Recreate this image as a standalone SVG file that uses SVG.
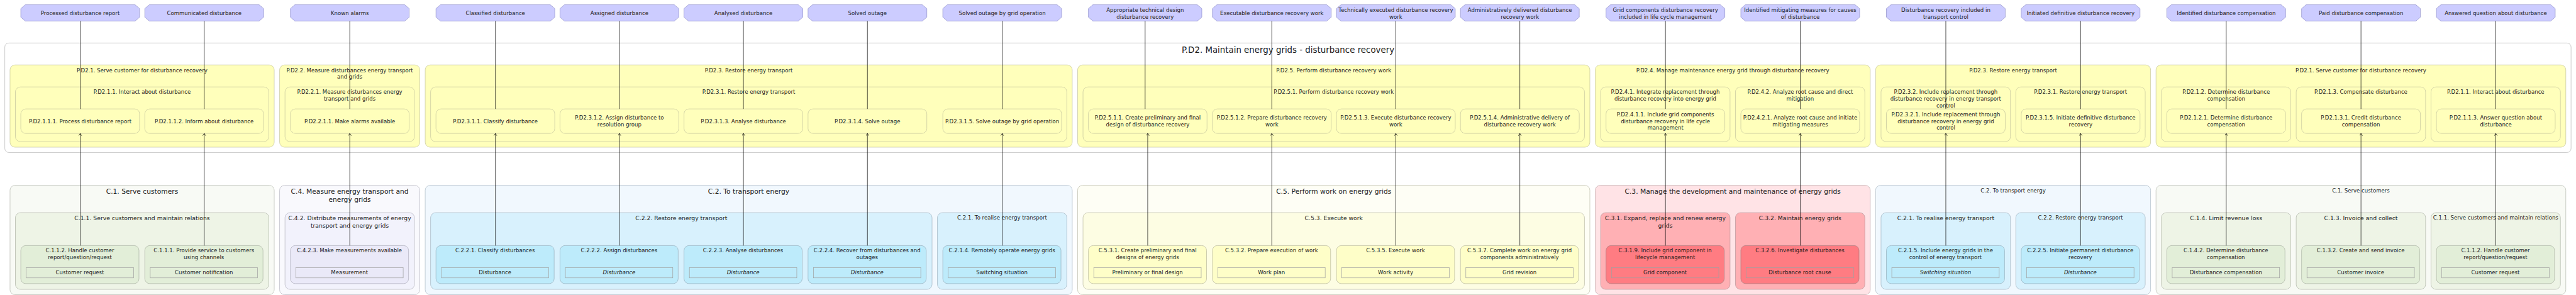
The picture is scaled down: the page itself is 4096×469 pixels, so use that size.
<svg xmlns="http://www.w3.org/2000/svg" width="4096" height="469" viewBox="0 0 4096 469">
<defs>
<marker id="arr" markerWidth="9" markerHeight="9" refX="5" refY="3.2" orient="auto" markerUnits="userSpaceOnUse"><path d="M0,0 L5,3.2 L0,6.4" fill="none" stroke="#000" stroke-width="1"/></marker>
<polygon id="oct" points="10,0 254.4,0 264.4,8.5 264.4,27.7 254.4,36.2 10,36.2 0,27.7 0,8.5"/>
</defs>
<style>
text{font-family:'DejaVu Sans',Verdana,sans-serif;text-anchor:middle;fill:#1a1a1a}
.f12{font-size:12px}.f13{font-size:13px}.f15{font-size:15px}.f19{font-size:18.7px}
.it{font-style:italic}
.out{fill:#ccccff;stroke:#8f8fc9;stroke-width:1}
.outer{fill:#ffffff;stroke:#b4b4b4;stroke-width:1}
.py{fill:#ffffbb;stroke:#c4c49e;stroke-width:1}
.g1{fill:#f8faf5;stroke:#b4b8ae;stroke-width:1}.g2{fill:#eef4e6;stroke:#adb3a6;stroke-width:1}.g3{fill:#e2eed8;stroke:#a9b1a2;stroke-width:1}
.v1{fill:#f9f9fd;stroke:#b6b6c0;stroke-width:1}.v2{fill:#f2f2fc;stroke:#b0b0bc;stroke-width:1}.v3{fill:#eae9f8;stroke:#aaaab8;stroke-width:1}
.b1{fill:#f1f8fe;stroke:#aab8c4;stroke-width:1}.b2{fill:#d8f1fd;stroke:#9fb2c0;stroke-width:1}.b3{fill:#bdebfb;stroke:#96aebd;stroke-width:1}
.y1{fill:#fefef5;stroke:#bdbdac;stroke-width:1}.y2{fill:#fdfde3;stroke:#b9b9a2;stroke-width:1}.y3{fill:#fefec8;stroke:#b7b79c;stroke-width:1}
.r1{fill:#ffe3e6;stroke:#c0a8aa;stroke-width:1}.r2{fill:#ffb0b4;stroke:#b8959a;stroke-width:1}.r3{fill:#ff7c82;stroke:#a97a7e;stroke-width:1}
.d{fill:none;stroke:#a0a0a0;stroke-width:1}
.con{stroke:#000;stroke-width:1;fill:none}
</style>
<g transform="scale(0.71446)">
<!-- Output nodes -->
<g id="out1"><use href="#oct" x="46.3" y="10.6" class="out"/><text class="f12" x="178.5" y="33.3">Processed disturbance report</text></g>
<g id="out2"><use href="#oct" x="322.3" y="10.6" class="out"/><text class="f12" x="454.5" y="33.3">Communicated disturbance</text></g>
<g id="out3"><use href="#oct" x="646.3" y="10.6" class="out"/><text class="f12" x="778.5" y="33.3">Known alarms</text></g>
<g id="out4"><use href="#oct" x="970.3" y="10.6" class="out"/><text class="f12" x="1102.5" y="33.3">Classified disturbance</text></g>
<g id="out5"><use href="#oct" x="1246.3" y="10.6" class="out"/><text class="f12" x="1378.5" y="33.3">Assigned disturbance</text></g>
<g id="out6"><use href="#oct" x="1522.3" y="10.6" class="out"/><text class="f12" x="1654.5" y="33.3">Analysed disturbance</text></g>
<g id="out7"><use href="#oct" x="1798.3" y="10.6" class="out"/><text class="f12" x="1930.5" y="33.3">Solved outage</text></g>
<g id="out8"><use href="#oct" x="2098.3" y="10.6" class="out"/><text class="f12" x="2230.5" y="33.3">Solved outage by grid operation</text></g>
<g id="out9"><polygon class="out" points="2432.3,10.6 2664.7,10.6 2674.7,19.1 2674.7,38.3 2664.7,46.8 2432.3,46.8 2422.3,38.3 2422.3,19.1"/><text class="f12" x="2548.5" y="26">Appropriate technical design</text><text class="f12" x="2548.5" y="41.3">disturbance recovery</text></g>
<g id="out10"><use href="#oct" x="2698.3" y="10.6" class="out"/><text class="f12" x="2830.5" y="33.3">Executable disturbance recovery work</text></g>
<g id="out11"><use href="#oct" x="2974.3" y="10.6" class="out"/><text class="f12" x="3106.5" y="26">Technically executed disturbance recovery</text><text class="f12" x="3106.5" y="41.3">work</text></g>
<g id="out12"><use href="#oct" x="3250.3" y="10.6" class="out"/><text class="f12" x="3382.5" y="26">Administratively delivered disturbance</text><text class="f12" x="3382.5" y="41.3">recovery work</text></g>
<g id="out13"><use href="#oct" x="3574.3" y="10.6" class="out"/><text class="f12" x="3706.5" y="26">Grid components disturbance recovery</text><text class="f12" x="3706.5" y="41.3">included in life cycle management</text></g>
<g id="out14"><use href="#oct" x="3874.3" y="10.6" class="out"/><text class="f12" x="4006.5" y="26">Identified mitigating measures for causes</text><text class="f12" x="4006.5" y="41.3">of disturbance</text></g>
<g id="out15"><use href="#oct" x="4198.3" y="10.6" class="out"/><text class="f12" x="4330.5" y="26">Disturbance recovery included in</text><text class="f12" x="4330.5" y="41.3">transport control</text></g>
<g id="out16"><use href="#oct" x="4498.3" y="10.6" class="out"/><text class="f12" x="4630.5" y="33.3">Initiated definitive disturbance recovery</text></g>
<g id="out17"><use href="#oct" x="4822.3" y="10.6" class="out"/><text class="f12" x="4954.5" y="33.3">Identified disturbance compensation</text></g>
<g id="out18"><use href="#oct" x="5122.3" y="10.6" class="out"/><text class="f12" x="5254.5" y="33.3">Paid disturbance compensation</text></g>
<g id="out19"><use href="#oct" x="5422.3" y="10.6" class="out"/><text class="f12" x="5554.5" y="33.3">Answered question about disturbance</text></g>

<!-- Process P.D2 -->
<g id="PD2"><rect class="outer" x="10.7" y="95.7" width="5711.3" height="243.6" rx="9"/><text class="f19" x="2866.5" y="118.1">P.D2. Maintain energy grids - disturbance recovery</text></g>

<g id="PD21a"><rect class="py" x="22.3" y="144.5" width="588" height="183" rx="11"/><text class="f12" x="316.3" y="160.3">P.D2.1. Serve customer for disturbance recovery</text></g>
<g id="PD22"><rect class="py" x="622.3" y="144.5" width="312" height="183" rx="11"/><text class="f12" x="778.3" y="160.3">P.D2.2. Measure disturbances energy transport</text><text class="f12" x="778.3" y="175.6">and grids</text></g>
<g id="PD23a"><rect class="py" x="946.3" y="144.5" width="1440" height="183" rx="11"/><text class="f12" x="1666.3" y="160.3">P.D2.3. Restore energy transport</text></g>
<g id="PD25"><rect class="py" x="2398.3" y="144.5" width="1140" height="183" rx="11"/><text class="f12" x="2968.3" y="160.3">P.D2.5. Perform disturbance recovery work</text></g>
<g id="PD24"><rect class="py" x="3550.3" y="144.5" width="612" height="183" rx="11"/><text class="f12" x="3856.3" y="160.3">P.D2.4. Manage maintenance energy grid through disturbance recovery</text></g>
<g id="PD23b"><rect class="py" x="4174.3" y="144.5" width="612" height="183" rx="11"/><text class="f12" x="4480.3" y="160.3">P.D2.3. Restore energy transport</text></g>
<g id="PD21b"><rect class="py" x="4798.3" y="144.5" width="912" height="183" rx="11"/><text class="f12" x="5254.3" y="160.3">P.D2.1. Serve customer for disturbance recovery</text></g>

<g id="PD211a"><rect class="py" x="34.3" y="193.5" width="564" height="121.6" rx="11"/><text class="f12" x="316.3" y="208.8">P.D2.1.1. Interact about disturbance</text></g>
<g id="PD221"><rect class="py" x="634.3" y="193.5" width="288" height="121.6" rx="11"/><text class="f12" x="778.3" y="208.8">P.D2.2.1. Measure disturbances energy</text><text class="f12" x="778.3" y="224.1">transport and grids</text></g>
<g id="PD231a"><rect class="py" x="958.3" y="193.5" width="1416" height="121.6" rx="11"/><text class="f12" x="1666.3" y="208.8">P.D2.3.1. Restore energy transport</text></g>
<g id="PD251"><rect class="py" x="2410.3" y="193.5" width="1116" height="121.6" rx="11"/><text class="f12" x="2968.3" y="208.8">P.D2.5.1. Perform disturbance recovery work</text></g>
<g id="PD241"><rect class="py" x="3562.3" y="193.5" width="288" height="121.6" rx="11"/><text class="f12" x="3706.3" y="208.8">P.D2.4.1. Integrate replacement through</text><text class="f12" x="3706.3" y="224.1">disturbance recovery into energy grid</text></g>
<g id="PD242"><rect class="py" x="3862.3" y="193.5" width="288" height="121.6" rx="11"/><text class="f12" x="4006.3" y="208.8">P.D2.4.2. Analyze root cause and direct</text><text class="f12" x="4006.3" y="224.1">mitigation</text></g>
<g id="PD232"><rect class="py" x="4186.3" y="193.5" width="288" height="121.6" rx="11"/><text class="f12" x="4330.3" y="208.8">P.D2.3.2. Include replacement through</text><text class="f12" x="4330.3" y="224.1">disturbance recovery in energy transport</text><text class="f12" x="4330.3" y="239">control</text></g>
<g id="PD231b"><rect class="py" x="4486.3" y="193.5" width="288" height="121.6" rx="11"/><text class="f12" x="4630.3" y="208.8">P.D2.3.1. Restore energy transport</text></g>
<g id="PD212"><rect class="py" x="4810.3" y="193.5" width="288" height="121.6" rx="11"/><text class="f12" x="4954.3" y="208.8">P.D2.1.2. Determine disturbance</text><text class="f12" x="4954.3" y="224.1">compensation</text></g>
<g id="PD213"><rect class="py" x="5110.3" y="193.5" width="288" height="121.6" rx="11"/><text class="f12" x="5254.3" y="208.8">P.D2.1.3. Compensate disturbance</text></g>
<g id="PD211b"><rect class="py" x="5410.3" y="193.5" width="288" height="121.6" rx="11"/><text class="f12" x="5554.3" y="208.8">P.D2.1.1. Interact about disturbance</text></g>

<g id="PD2111"><rect class="py" x="46.3" y="242.4" width="264.4" height="54.5" rx="11"/><text class="f12" x="178.5" y="273.9">P.D2.1.1.1. Process disturbance report</text></g>
<g id="PD2112"><rect class="py" x="322.3" y="242.4" width="264.4" height="54.5" rx="11"/><text class="f12" x="454.5" y="273.9">P.D2.1.1.2. Inform about disturbance</text></g>
<g id="PD2211"><rect class="py" x="646.3" y="242.4" width="264.4" height="54.5" rx="11"/><text class="f12" x="778.5" y="273.9">P.D2.2.1.1. Make alarms available</text></g>
<g id="PD2311"><rect class="py" x="970.3" y="242.4" width="264.4" height="54.5" rx="11"/><text class="f12" x="1102.5" y="273.9">P.D2.3.1.1. Classify disturbance</text></g>
<g id="PD2312"><rect class="py" x="1246.3" y="242.4" width="264.4" height="54.5" rx="11"/><text class="f12" x="1378.5" y="265.4">P.D2.3.1.2. Assign disturbance to</text><text class="f12" x="1378.5" y="280.7">resolution group</text></g>
<g id="PD2313"><rect class="py" x="1522.3" y="242.4" width="264.4" height="54.5" rx="11"/><text class="f12" x="1654.5" y="273.9">P.D2.3.1.3. Analyse disturbance</text></g>
<g id="PD2314"><rect class="py" x="1798.3" y="242.4" width="264.4" height="54.5" rx="11"/><text class="f12" x="1930.5" y="273.9">P.D2.3.1.4. Solve outage</text></g>
<g id="PD2315a"><rect class="py" x="2098.3" y="242.4" width="264.4" height="54.5" rx="11"/><text class="f12" x="2230.5" y="273.9">P.D2.3.1.5. Solve outage by grid operation</text></g>
<g id="PD2511"><rect class="py" x="2422.3" y="242.4" width="264" height="54.5" rx="11"/><text class="f12" x="2554.3" y="265.4">P.D2.5.1.1. Create preliminary and final</text><text class="f12" x="2554.3" y="280.7">design of disturbance recovery</text></g>
<g id="PD2512"><rect class="py" x="2698.3" y="242.4" width="264.4" height="54.5" rx="11"/><text class="f12" x="2830.5" y="265.4">P.D2.5.1.2. Prepare disturbance recovery</text><text class="f12" x="2830.5" y="280.7">work</text></g>
<g id="PD2513"><rect class="py" x="2974.3" y="242.4" width="264.4" height="54.5" rx="11"/><text class="f12" x="3106.5" y="265.4">P.D2.5.1.3. Execute disturbance recovery</text><text class="f12" x="3106.5" y="280.7">work</text></g>
<g id="PD2514"><rect class="py" x="3250.3" y="242.4" width="264.4" height="54.5" rx="11"/><text class="f12" x="3382.5" y="265.4">P.D2.5.1.4. Administrative delivery of</text><text class="f12" x="3382.5" y="280.7">disturbance recovery work</text></g>
<g id="PD2411"><rect class="py" x="3574.3" y="242.4" width="264.4" height="54.5" rx="11"/><text class="f12" x="3706.5" y="258.5">P.D2.4.1.1. Include grid components</text><text class="f12" x="3706.5" y="273.9">disturbance recovery in life cycle</text><text class="f12" x="3706.5" y="288.8">management</text></g>
<g id="PD2421"><rect class="py" x="3874.3" y="242.4" width="264.4" height="54.5" rx="11"/><text class="f12" x="4006.5" y="265.4">P.D2.4.2.1. Analyze root cause and initiate</text><text class="f12" x="4006.5" y="280.7">mitigating measures</text></g>
<g id="PD2321"><rect class="py" x="4198.3" y="242.4" width="264.4" height="54.5" rx="11"/><text class="f12" x="4330.5" y="258.5">P.D2.3.2.1. Include replacement through</text><text class="f12" x="4330.5" y="273.9">disturbance recovery in energy grid</text><text class="f12" x="4330.5" y="288.8">control</text></g>
<g id="PD2315b"><rect class="py" x="4498.3" y="242.4" width="264.4" height="54.5" rx="11"/><text class="f12" x="4630.5" y="265.4">P.D2.3.1.5. Initiate definitive disturbance</text><text class="f12" x="4630.5" y="280.7">recovery</text></g>
<g id="PD2121"><rect class="py" x="4822.3" y="242.4" width="264.4" height="54.5" rx="11"/><text class="f12" x="4954.5" y="265.4">P.D2.1.2.1. Determine disturbance</text><text class="f12" x="4954.5" y="280.7">compensation</text></g>
<g id="PD2131"><rect class="py" x="5122.3" y="242.4" width="264.4" height="54.5" rx="11"/><text class="f12" x="5254.5" y="265.4">P.D2.1.3.1. Credit disturbance</text><text class="f12" x="5254.5" y="280.7">compensation</text></g>
<g id="PD2113"><rect class="py" x="5422.3" y="242.4" width="264.4" height="54.5" rx="11"/><text class="f12" x="5554.5" y="265.4">P.D2.1.1.3. Answer question about</text><text class="f12" x="5554.5" y="280.7">disturbance</text></g>

<!-- Capabilities -->
<g id="C1a"><rect class="g1" x="22.3" y="412.4" width="588" height="243.3" rx="11"/><text class="f15" x="316.3" y="430.6">C.1. Serve customers</text></g>
<g id="C4"><rect class="v1" x="622.3" y="412.4" width="312" height="243.3" rx="11"/><text class="f15" x="778.3" y="430.6">C.4. Measure energy transport and</text><text class="f15" x="778.3" y="449">energy grids</text></g>
<g id="C2a"><rect class="b1" x="946.3" y="412.4" width="1440" height="243.3" rx="11"/><text class="f15" x="1666.3" y="430.6">C.2. To transport energy</text></g>
<g id="C5"><rect class="y1" x="2398.3" y="412.4" width="1140" height="243.3" rx="11"/><text class="f15" x="2968.3" y="430.6">C.5. Perform work on energy grids</text></g>
<g id="C3"><rect class="r1" x="3550.3" y="412.4" width="612" height="243.3" rx="11"/><text class="f15" x="3856.3" y="430.6">C.3. Manage the development and maintenance of energy grids</text></g>
<g id="C2b"><rect class="b1" x="4174.3" y="412.4" width="612" height="243.3" rx="11"/><text class="f12" x="4480.3" y="428.2">C.2. To transport energy</text></g>
<g id="C1b"><rect class="g1" x="4798.3" y="412.4" width="912" height="243.3" rx="11"/><text class="f12" x="5254.3" y="428.2">C.1. Serve customers</text></g>

<g id="C11a"><rect class="g2" x="34.3" y="473.3" width="564" height="170.5" rx="11"/><text class="f13" x="316.3" y="489.9">C.1.1. Serve customers and maintain relations</text></g>
<g id="C42"><rect class="v2" x="634.3" y="473.3" width="288" height="170.5" rx="11"/><text class="f13" x="778.3" y="489.9">C.4.2. Distribute measurements of energy</text><text class="f13" x="778.3" y="507.3">transport and energy grids</text></g>
<g id="C22a"><rect class="b2" x="958.3" y="473.3" width="1116" height="170.5" rx="11"/><text class="f13" x="1516.3" y="489.9">C.2.2. Restore energy transport</text></g>
<g id="C21a"><rect class="b2" x="2086.3" y="473.3" width="288" height="170.5" rx="11"/><text class="f12" x="2230.3" y="488.7">C.2.1. To realise energy transport</text></g>
<g id="C53"><rect class="y2" x="2410.3" y="473.3" width="1116" height="170.5" rx="11"/><text class="f13" x="2968.3" y="489.9">C.5.3. Execute work</text></g>
<g id="C31"><rect class="r2" x="3562.3" y="473.3" width="288" height="170.5" rx="11"/><text class="f13" x="3706.3" y="489.9">C.3.1. Expand, replace and renew energy</text><text class="f13" x="3706.3" y="507.3">grids</text></g>
<g id="C32"><rect class="r2" x="3862.3" y="473.3" width="288" height="170.5" rx="11"/><text class="f13" x="4006.3" y="489.9">C.3.2. Maintain energy grids</text></g>
<g id="C21b"><rect class="b2" x="4186.3" y="473.3" width="288" height="170.5" rx="11"/><text class="f13" x="4330.3" y="489.9">C.2.1. To realise energy transport</text></g>
<g id="C22b"><rect class="b2" x="4486.3" y="473.3" width="288" height="170.5" rx="11"/><text class="f12" x="4630.3" y="488.7">C.2.2. Restore energy transport</text></g>
<g id="C14"><rect class="g2" x="4810.3" y="473.3" width="288" height="170.5" rx="11"/><text class="f13" x="4954.3" y="489.9">C.1.4. Limit revenue loss</text></g>
<g id="C13"><rect class="g2" x="5110.3" y="473.3" width="288" height="170.5" rx="11"/><text class="f13" x="5254.3" y="489.9">C.1.3. Invoice and collect</text></g>
<g id="C11b"><rect class="g2" x="5410.3" y="473.3" width="288" height="170.5" rx="11"/><text class="f12" x="5554.3" y="488.7">C.1.1. Serve customers and maintain relations</text></g>

<g id="C112a"><rect class="g3" x="46.3" y="546.4" width="263" height="84.7" rx="11"/><text class="f12" x="177.8" y="561.8">C.1.1.2. Handle customer</text><text class="f12" x="177.8" y="577.1">report/question/request</text><rect class="d" x="58.3" y="595.4" width="239" height="22.9"/><text class="f12" x="177.8" y="610.6">Customer request</text></g>
<g id="C111"><rect class="g3" x="322.3" y="546.4" width="263" height="84.7" rx="11"/><text class="f12" x="453.8" y="561.8">C.1.1.1. Provide service to customers</text><text class="f12" x="453.8" y="577.1">using channels</text><rect class="d" x="334.3" y="595.4" width="239" height="22.9"/><text class="f12" x="453.8" y="610.6">Customer notification</text></g>
<g id="C423"><rect class="v3" x="646.3" y="546.4" width="263" height="84.7" rx="11"/><text class="f12" x="777.8" y="561.8">C.4.2.3. Make measurements available</text><rect class="d" x="658.3" y="595.4" width="239" height="22.9"/><text class="f12" x="777.8" y="610.6">Measurement</text></g>
<g id="C221"><rect class="b3" x="970.3" y="546.4" width="263" height="84.7" rx="11"/><text class="f12" x="1101.8" y="561.8">C.2.2.1. Classify disturbances</text><rect class="d" x="982.3" y="595.4" width="239" height="22.9"/><text class="f12" x="1101.8" y="610.6">Disturbance</text></g>
<g id="C222"><rect class="b3" x="1246.3" y="546.4" width="263" height="84.7" rx="11"/><text class="f12" x="1377.8" y="561.8">C.2.2.2. Assign disturbances</text><rect class="d" x="1258.3" y="595.4" width="239" height="22.9"/><text class="f12 it" x="1377.8" y="610.6">Disturbance</text></g>
<g id="C223"><rect class="b3" x="1522.3" y="546.4" width="263" height="84.7" rx="11"/><text class="f12" x="1653.8" y="561.8">C.2.2.3. Analyse disturbances</text><rect class="d" x="1534.3" y="595.4" width="239" height="22.9"/><text class="f12 it" x="1653.8" y="610.6">Disturbance</text></g>
<g id="C224"><rect class="b3" x="1798.3" y="546.4" width="263" height="84.7" rx="11"/><text class="f12" x="1929.8" y="561.8">C.2.2.4. Recover from disturbances and</text><text class="f12" x="1929.8" y="577.1">outages</text><rect class="d" x="1810.3" y="595.4" width="239" height="22.9"/><text class="f12 it" x="1929.8" y="610.6">Disturbance</text></g>
<g id="C214"><rect class="b3" x="2098.3" y="546.4" width="263" height="84.7" rx="11"/><text class="f12" x="2229.8" y="561.8">C.2.1.4. Remotely operate energy grids</text><rect class="d" x="2110.3" y="595.4" width="239" height="22.9"/><text class="f12" x="2229.8" y="610.6">Switching situation</text></g>
<g id="C531"><rect class="y3" x="2422.3" y="546.4" width="263" height="84.7" rx="11"/><text class="f12" x="2553.8" y="561.8">C.5.3.1. Create preliminary and final</text><text class="f12" x="2553.8" y="577.1">designs of energy grids</text><rect class="d" x="2434.3" y="595.4" width="239" height="22.9"/><text class="f12" x="2553.8" y="610.6">Preliminary or final design</text></g>
<g id="C532"><rect class="y3" x="2698.3" y="546.4" width="263" height="84.7" rx="11"/><text class="f12" x="2829.8" y="561.8">C.5.3.2. Prepare execution of work</text><rect class="d" x="2710.3" y="595.4" width="239" height="22.9"/><text class="f12" x="2829.8" y="610.6">Work plan</text></g>
<g id="C535"><rect class="y3" x="2974.3" y="546.4" width="263" height="84.7" rx="11"/><text class="f12" x="3105.8" y="561.8">C.5.3.5. Execute work</text><rect class="d" x="2986.3" y="595.4" width="239" height="22.9"/><text class="f12" x="3105.8" y="610.6">Work activity</text></g>
<g id="C537"><rect class="y3" x="3250.3" y="546.4" width="263" height="84.7" rx="11"/><text class="f12" x="3381.8" y="561.8">C.5.3.7. Complete work on energy grid</text><text class="f12" x="3381.8" y="577.1">components administratively</text><rect class="d" x="3262.3" y="595.4" width="239" height="22.9"/><text class="f12" x="3381.8" y="610.6">Grid revision</text></g>
<g id="C319"><rect class="r3" x="3574.3" y="546.4" width="263" height="84.7" rx="11"/><text class="f12" x="3705.8" y="561.8">C.3.1.9. Include grid component in</text><text class="f12" x="3705.8" y="577.1">lifecycle management</text><rect class="d" x="3586.3" y="595.4" width="239" height="22.9"/><text class="f12" x="3705.8" y="610.6">Grid component</text></g>
<g id="C326"><rect class="r3" x="3874.3" y="546.4" width="263" height="84.7" rx="11"/><text class="f12" x="4005.8" y="561.8">C.3.2.6. Investigate disturbances</text><rect class="d" x="3886.3" y="595.4" width="239" height="22.9"/><text class="f12" x="4005.8" y="610.6">Disturbance root cause</text></g>
<g id="C215"><rect class="b3" x="4198.3" y="546.4" width="263" height="84.7" rx="11"/><text class="f12" x="4329.8" y="561.8">C.2.1.5. Include energy grids in the</text><text class="f12" x="4329.8" y="577.1">control of energy transport</text><rect class="d" x="4210.3" y="595.4" width="239" height="22.9"/><text class="f12 it" x="4329.8" y="610.6">Switching situation</text></g>
<g id="C225"><rect class="b3" x="4498.3" y="546.4" width="263" height="84.7" rx="11"/><text class="f12" x="4629.8" y="561.8">C.2.2.5. Initiate permanent disturbance</text><text class="f12" x="4629.8" y="577.1">recovery</text><rect class="d" x="4510.3" y="595.4" width="239" height="22.9"/><text class="f12 it" x="4629.8" y="610.6">Disturbance</text></g>
<g id="C142"><rect class="g3" x="4822.3" y="546.4" width="263" height="84.7" rx="11"/><text class="f12" x="4953.8" y="561.8">C.1.4.2. Determine disturbance</text><text class="f12" x="4953.8" y="577.1">compensation</text><rect class="d" x="4834.3" y="595.4" width="239" height="22.9"/><text class="f12" x="4953.8" y="610.6">Disturbance compensation</text></g>
<g id="C132"><rect class="g3" x="5122.3" y="546.4" width="263" height="84.7" rx="11"/><text class="f12" x="5253.8" y="561.8">C.1.3.2. Create and send invoice</text><rect class="d" x="5134.3" y="595.4" width="239" height="22.9"/><text class="f12" x="5253.8" y="610.6">Customer invoice</text></g>
<g id="C112b"><rect class="g3" x="5422.3" y="546.4" width="263" height="84.7" rx="11"/><text class="f12" x="5553.8" y="561.8">C.1.1.2. Handle customer</text><text class="f12" x="5553.8" y="577.1">report/question/request</text><rect class="d" x="5434.3" y="595.4" width="239" height="22.9"/><text class="f12" x="5553.8" y="610.6">Customer request</text></g>

<!-- Connectors -->
<g id="connectors" class="con">
<path d="M178.5,46.8V242.4M454.5,46.8V242.4M778.5,46.8V242.4M1102.5,46.8V242.4M1378.5,46.8V242.4M1654.5,46.8V242.4M1930.5,46.8V242.4M2230.5,46.8V242.4M2548.5,46.8V242.4M2830.5,46.8V242.4M3106.5,46.8V242.4M3382.5,46.8V242.4M3706.5,46.8V242.4M4006.5,46.8V242.4M4330.5,46.8V242.4M4630.5,46.8V242.4M4954.5,46.8V242.4M5254.5,46.8V242.4M5554.5,46.8V242.4"/>
<line x1="178.5" y1="546.4" x2="178.5" y2="296.9" marker-end="url(#arr)"/>
<line x1="454.5" y1="546.4" x2="454.5" y2="296.9" marker-end="url(#arr)"/>
<line x1="778.5" y1="546.4" x2="778.5" y2="296.9" marker-end="url(#arr)"/>
<line x1="1102.5" y1="546.4" x2="1102.5" y2="296.9" marker-end="url(#arr)"/>
<line x1="1378.5" y1="546.4" x2="1378.5" y2="296.9" marker-end="url(#arr)"/>
<line x1="1654.5" y1="546.4" x2="1654.5" y2="296.9" marker-end="url(#arr)"/>
<line x1="1930.5" y1="546.4" x2="1930.5" y2="296.9" marker-end="url(#arr)"/>
<line x1="2230.5" y1="546.4" x2="2230.5" y2="296.9" marker-end="url(#arr)"/>
<line x1="2554.3" y1="546.4" x2="2554.3" y2="296.9" marker-end="url(#arr)"/>
<line x1="2830.5" y1="546.4" x2="2830.5" y2="296.9" marker-end="url(#arr)"/>
<line x1="3106.5" y1="546.4" x2="3106.5" y2="296.9" marker-end="url(#arr)"/>
<line x1="3382.5" y1="546.4" x2="3382.5" y2="296.9" marker-end="url(#arr)"/>
<line x1="3706.5" y1="546.4" x2="3706.5" y2="296.9" marker-end="url(#arr)"/>
<line x1="4006.5" y1="546.4" x2="4006.5" y2="296.9" marker-end="url(#arr)"/>
<line x1="4330.5" y1="546.4" x2="4330.5" y2="296.9" marker-end="url(#arr)"/>
<line x1="4630.5" y1="546.4" x2="4630.5" y2="296.9" marker-end="url(#arr)"/>
<line x1="4954.5" y1="546.4" x2="4954.5" y2="296.9" marker-end="url(#arr)"/>
<line x1="5254.5" y1="546.4" x2="5254.5" y2="296.9" marker-end="url(#arr)"/>
<line x1="5554.5" y1="546.4" x2="5554.5" y2="296.9" marker-end="url(#arr)"/>
</g>
</g>
</svg>
